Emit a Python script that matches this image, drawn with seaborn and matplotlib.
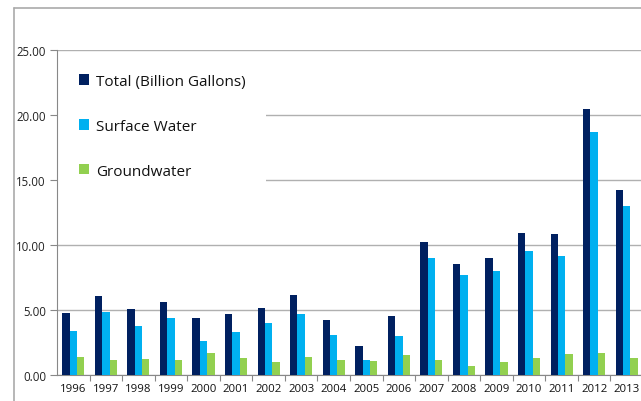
import matplotlib
matplotlib.use("Agg")
import matplotlib.pyplot as plt
from matplotlib.lines import Line2D
from matplotlib.patches import Rectangle
import seaborn as sns
import pandas as pd
import numpy as np

years = ["1996", "1997", "1998", "1999", "2000", "2001", "2002", "2003", "2004",
         "2005", "2006", "2007", "2008", "2009", "2010", "2011", "2012", "2013"]
total = [4.77, 6.05, 5.08, 5.59, 4.36, 4.69, 5.13, 6.15, 4.23,
         2.23, 4.56, 10.23, 8.54, 9.03, 10.95, 10.85, 20.46, 14.26]
surface = [3.36, 4.87, 3.79, 4.36, 2.64, 3.31, 4.03, 4.69, 3.05,
           1.13, 2.97, 9.00, 7.69, 7.97, 9.54, 9.18, 18.72, 12.97]
ground = [1.38, 1.13, 1.23, 1.15, 1.67, 1.33, 1.00, 1.38, 1.13,
          1.05, 1.56, 1.13, 0.72, 1.00, 1.33, 1.62, 1.69, 1.28]
series_names = ["Total (Billion Gallons)", "Surface Water", "Groundwater"]
colors = ["#002060", "#00B0F0", "#92D050"]
yticks = [0, 5, 10, 15, 20, 25]

df = pd.DataFrame({
    "Year": years * 3,
    "Value": total + surface + ground,
    "Series": [series_names[0]] * len(years) + [series_names[1]] * len(years) + [series_names[2]] * len(years),
})

sns.set_style("white")
plt.rcParams["font.family"] = ["Open Sans", "DejaVu Sans"]

fig = plt.figure(figsize=(6.41, 4.02), dpi=100)
ax = fig.add_axes([57 / 641, 26 / 402, 586 / 641, 325 / 402])

sns.barplot(data=df, x="Year", y="Value", hue="Series", palette=colors,
            width=0.68, saturation=1, ax=ax, legend=True, zorder=3, linewidth=0)

ax.set_ylim(0, 25)
ax.set_xlim(-0.5, len(years) - 0.5)
ax.set_yticks(yticks)
ax.set_yticklabels([f"{v:.2f}" for v in yticks], fontsize=8.3, color="#222222")
ax.set_xlabel("")
ax.set_ylabel("")
ax.tick_params(axis="x", length=0, labelsize=8.2, colors="#111111", pad=6)
ax.tick_params(axis="y", length=5, width=0.8, color="#888888", pad=3, left=True)
ax.set_xticks(np.arange(len(years)) + 0.5, minor=True)
ax.tick_params(axis="x", which="minor", length=4, width=0.8, color="#888888", bottom=True)

ax.yaxis.grid(True, color="#b0b0b0", linewidth=1.0)
ax.set_axisbelow(True)
for s in ["top", "right"]:
    ax.spines[s].set_visible(False)
ax.spines["left"].set_color("#888888")
ax.spines["bottom"].set_color("#888888")
ax.spines["left"].set_linewidth(0.8)
ax.spines["bottom"].set_linewidth(0.8)

# white area behind legend hiding gridlines
ax.add_patch(Rectangle((0, 13.5 / 25), (266 - 57) / 586, 10.5 / 25, transform=ax.transAxes,
                       facecolor="white", edgecolor="none", zorder=1))

handles, labels = ax.get_legend_handles_labels()
leg = ax.legend(handles, labels, loc="upper left", bbox_to_anchor=(22 / 586, 1 - 24 / 325),
                frameon=False, fontsize=11, handlelength=0.68, handleheight=0.68,
                handletextpad=0.42, labelspacing=1.95, borderpad=0, borderaxespad=0)
for t in leg.get_texts():
    t.set_color("#111111")

# outer chart border
fig.add_artist(Line2D([14 / 641, 14 / 641], [0, 1 - 9 / 402], color="#aaaaaa", linewidth=1.2,
                      transform=fig.transFigure))
fig.add_artist(Line2D([14 / 641, 1], [1 - 9 / 402, 1 - 9 / 402], color="#aaaaaa", linewidth=1.2,
                      transform=fig.transFigure))

fig.savefig("out.png", dpi=100)
